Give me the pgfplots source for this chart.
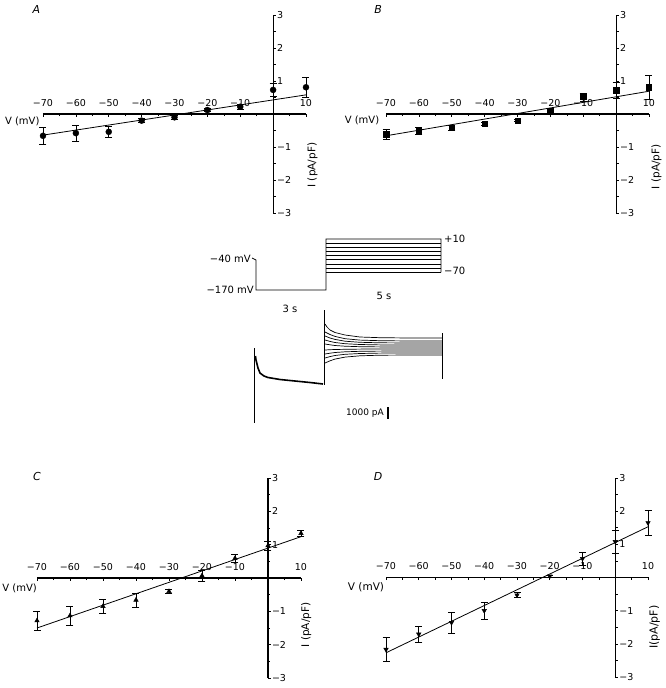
\documentclass[border=0pt]{standalone}
\usepackage{fontspec}
\setmainfont{DejaVu Sans}
\usepackage{pgfplots}
\usepackage{pgfplotstable}
\pgfplotsset{compat=1.18}

\pgfplotstableread{
v i e
-70 -0.66 0.27
-60 -0.58 0.25
-50 -0.54 0.18
-40 -0.20 0.06
-30 -0.10 0.05
-20 0.12 0.05
-10 0.22 0.07
0 0.73 0.20
10 0.81 0.30
}\dataA
\pgfplotstableread{
v i e
-70 -0.61 0.15
-60 -0.50 0.10
-50 -0.42 0.08
-40 -0.30 0.04
-30 -0.20 0.03
-20 0.10 0.03
-10 0.52 0.12
0 0.72 0.25
10 0.81 0.35
}\dataB
\pgfplotstableread{
v i e
-70 -1.28 0.29
-60 -1.13 0.29
-50 -0.85 0.22
-40 -0.66 0.21
-30 -0.40 0.07
-20 0.07 0.16
-10 0.59 0.12
0 0.97 0.13
10 1.34 0.09
}\dataC
\pgfplotstableread{
v i e
-70 -2.17 0.36
-60 -1.71 0.25
-50 -1.36 0.31
-40 -1.00 0.25
-30 -0.53 0.07
-20 0.04 0.03
-10 0.57 0.20
0 1.08 0.35
10 1.65 0.38
}\dataD

\tikzset{
  lbl/.style={font=\fontsize{10}{11}\selectfont},
  ilbl/.style={font=\fontsize{10.5}{11}\selectfont, rotate=90},
  mlbl/.style={font=\fontsize{10}{11}\selectfont},
  panel/.style={font=\fontsize{11}{12}\selectfont\itshape},
}
\pgfplotsset{
  ivpanel/.style={
    scale only axis, anchor=south west, clip=false,
    xmin=-70, xmax=10, ymin=-3, ymax=3,
    axis lines=middle, axis line style={-, line width=1.1pt},
    xtick={-70,-60,-50,-40,-30,-20,-10,10},
    xticklabels={−70,−60,−50,−40,−30,−20,−10,10},
    ytick={-3,-2,-1,1,2,3},
    yticklabels={−3,−2,−1,1,2,3},
    minor xtick={-65,-55,-45,-35,-25,-15,-5,5},
    minor ytick={-2.5,-1.5,-0.5,0.5,1.5,2.5},
    major tick length=3pt, minor tick length=2pt,
    tick style={black, line width=0.6pt},
    x tick style={yshift=-1.2pt},
    y tick style={xshift=1.5pt},
    xticklabel style={anchor=south, yshift=5.5pt, font=\fontsize{9.5}{10}\selectfont},
    yticklabel style={anchor=west, xshift=2pt, font=\fontsize{9.5}{10}\selectfont},
  },
  datapts/.style={black, only marks,
    error bars/y dir=both, error bars/y explicit,
    error bars/error bar style={line width=0.6pt},
    error bars/error mark options={rotate=90, mark size=3.5pt, line width=0.6pt}},
  fitline/.style={black, line width=0.8pt, no marks},
}

\begin{document}
\begin{tikzpicture}
\useasboundingbox (0,0) rectangle (666pt,-688pt);

% Panel A
\begin{axis}[ivpanel, at={(43pt,-213pt)}, width=263pt, height=198pt]
\addplot[fitline] coordinates {(-70,-0.64) (10,0.58)};
\addplot[datapts, mark=*, mark size=3pt] table[x=v, y=i, y error=e] {\dataA};
\node[lbl, anchor=east] at (axis cs:-70,-0.22) {V (mV)};
\node[ilbl] at (axis cs:12,-1.55) {I\,\,(pA/pF)};
\node[panel] at (axis cs:-72,3.18) {A};
\end{axis}

% Panel B
\begin{axis}[ivpanel, at={(386pt,-213pt)}, width=263pt, height=198pt]
\addplot[fitline] coordinates {(-70,-0.66) (10,0.69)};
\addplot[datapts, mark=square*, mark size=2.7pt] table[x=v, y=i, y error=e] {\dataB};
\node[lbl, anchor=east] at (axis cs:-71,-0.18) {V (mV)};
\node[ilbl] at (axis cs:12.3,-1.6) {I\,\,(pA/pF)};
\node[panel] at (axis cs:-72.4,3.18) {B};
\end{axis}

% Panel C
\begin{axis}[ivpanel, at={(37pt,-678pt)}, width=264pt, height=200pt]
\addplot[fitline] coordinates {(-70,-1.5) (10,1.24)};
\addplot[datapts, mark=triangle*, mark size=2.6pt] table[x=v, y=i, y error=e] {\dataC};
\node[lbl, anchor=east] at (axis cs:-69,-0.3) {V (mV)};
\node[ilbl] at (axis cs:11.6,-1.41) {I\,\,(pA/pF)};
\node[panel] at (axis cs:-70,3.06) {C};
\end{axis}

% Panel D
\begin{axis}[ivpanel, at={(386pt,-677pt)}, width=262pt, height=199pt]
\addplot[fitline] coordinates {(-70,-2.27) (10,1.53)};
\addplot[datapts, mark=triangle*, mark size=2.6pt, mark options={rotate=180}] table[x=v, y=i, y error=e] {\dataD};
\node[lbl, anchor=east, font=\fontsize{10.5}{11}\selectfont] at (axis cs:-69.5,-0.3) {V (mV)};
\node[ilbl, font=\fontsize{11}{12}\selectfont] at (axis cs:12,-1.5) {I(pA/pF)};
\node[panel] at (axis cs:-72.4,3.06) {D};
\end{axis}

% Middle: protocol and current traces (schematic, pixel coordinates)
\begin{axis}[scale only axis, hide axis, clip=false, anchor=south west,
  at={(200pt,-430pt)}, width=260pt, height=200pt,
  xmin=200, xmax=460, ymin=-430, ymax=-230]
\addplot[black, line width=0.8pt] coordinates {(252,-258) (256,-260) (256,-290) (326,-290) (326,-239) (441,-239) (441,-272.3)};
\addplot[black, line width=0.7pt] coordinates {(326,-243) (441,-243)};
\addplot[black, line width=0.7pt] coordinates {(326,-247.3) (441,-247.3)};
\addplot[black, line width=0.7pt] coordinates {(326,-251.3) (441,-251.3)};
\addplot[black, line width=0.7pt] coordinates {(326,-255.7) (441,-255.7)};
\addplot[black, line width=0.7pt] coordinates {(326,-259.7) (441,-259.7)};
\addplot[black, line width=0.7pt] coordinates {(326,-264) (441,-264)};
\addplot[black, line width=0.7pt] coordinates {(326,-268) (441,-268)};
\addplot[black, line width=0.7pt] coordinates {(326,-272.3) (441,-272.3)};
\node[mlbl, anchor=east, inner sep=1pt] at (axis cs:252,-259) {−40 mV};
\node[mlbl, anchor=east, inner sep=1pt] at (axis cs:255,-290) {−170 mV};
\node[mlbl, anchor=west, inner sep=1pt] at (axis cs:443,-239) {+10};
\node[mlbl, anchor=west, inner sep=1pt] at (axis cs:443,-271) {−70};
\node[mlbl] at (axis cs:290,-309) {3 s};
\node[mlbl] at (axis cs:384,-296) {5 s};
% current traces
\addplot[black, line width=0.7pt] coordinates {(254,-348) (254,-423)};
\addplot[black, line width=1.6pt] coordinates {(255.5,-356) (256,-360) (258,-368) (260,-373) (264,-376) (268,-377.5) (280,-379.5) (295,-381) (310,-382.5) (323,-384)};
\addplot[black, line width=0.7pt] coordinates {(324,-310) (324,-385)};
\addplot[black, line width=0.7pt] coordinates {(325,-324) (327,-327) (330,-330) (335,-332.5) (345,-335) (360,-337) (380,-337.7) (410,-338) (442,-338)};
\addplot[black, line width=0.7pt] coordinates {(325,-332) (330,-334.5) (335,-336.4) (345,-338.7) (360,-340.1) (380,-340.7) (410,-341) (442,-341)};
\addplot[black, line width=0.7pt] coordinates {(325,-336) (330,-338) (335,-339.4) (345,-341.2) (360,-342.3) (380,-342.8) (410,-343) (442,-343)};
\addplot[black, line width=0.7pt] coordinates {(325,-340) (330,-341.4) (335,-342.5) (345,-343.7) (360,-344.5) (380,-344.9) (410,-345) (442,-345)};
\addplot[black, line width=0.7pt] coordinates {(325,-344) (330,-344.8) (335,-345.5) (345,-346.2) (360,-346.7) (380,-346.9) (410,-347) (442,-347)};
\addplot[black, line width=0.7pt] coordinates {(325,-350) (330,-349.7) (335,-349.5) (345,-349.3) (360,-349.1) (380,-349) (410,-349) (442,-349)};
\addplot[black, line width=0.7pt] coordinates {(325,-354) (330,-353.2) (335,-352.5) (345,-351.8) (360,-351.3) (380,-351.1) (410,-351) (442,-351)};
\addplot[black, line width=0.7pt] coordinates {(325,-358) (330,-356.6) (335,-355.5) (345,-354.3) (360,-353.5) (380,-353.1) (410,-353) (442,-353)};
\addplot[black, line width=0.7pt] coordinates {(325,-363) (330,-360.8) (335,-359.1) (345,-357.1) (360,-355.8) (380,-355.2) (410,-355) (442,-355)};
\addplot[black, line width=0.7pt] coordinates {(442,-333) (442,-379)};
\addplot[black, line width=1.4pt] coordinates {(388,-407) (388,-419)};
\node[font=\fontsize{9}{10}\selectfont, anchor=east, inner sep=2pt] at (axis cs:386,-413) {1000 pA};
\end{axis}
\end{tikzpicture}
\end{document}
